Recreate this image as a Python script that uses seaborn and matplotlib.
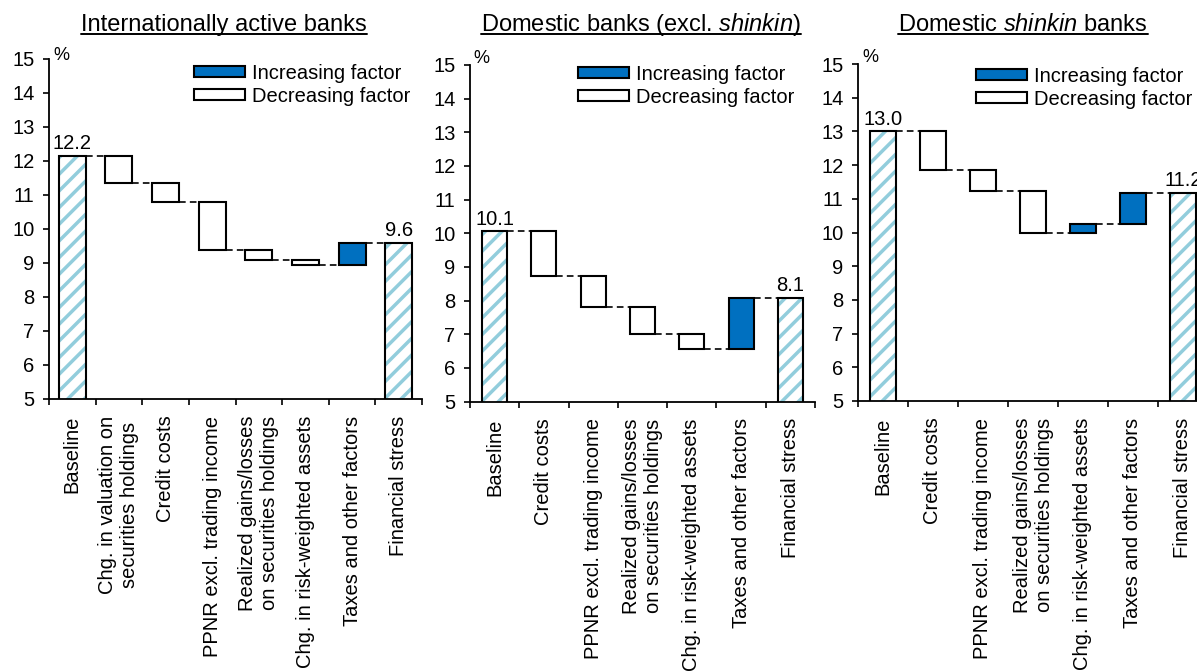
import numpy as np
import pandas as pd
import matplotlib
matplotlib.use("Agg")
import matplotlib.pyplot as plt
import seaborn as sns
from matplotlib.patches import Patch
from matplotlib.lines import Line2D

sns.set_theme(style="ticks")
plt.rcParams["font.family"] = ["Liberation Sans", "DejaVu Sans"]
plt.rcParams["mathtext.fontset"] = "custom"
plt.rcParams["mathtext.rm"] = "Liberation Sans"
plt.rcParams["mathtext.it"] = "Liberation Sans:italic"
plt.rcParams["hatch.linewidth"] = 2.5
for key in ("text.color", "axes.labelcolor", "xtick.color", "ytick.color",
            "xtick.labelcolor", "ytick.labelcolor"):
    plt.rcParams[key] = "black"

# ---------------- data ----------------
intl_categories = ["Baseline", "Chg. in valuation on\nsecurities holdings", "Credit costs",
                   "PPNR excl. trading income", "Realized gains/losses\non securities holdings",
                   "Chg. in risk-weighted assets", "Taxes and other factors", "Financial stress"]
intl_baseline = 12.16
intl_changes = [-0.82, -0.56, -1.40, -0.30, -0.13, 0.65]

dom_categories = ["Baseline", "Credit costs", "PPNR excl. trading income",
                  "Realized gains/losses\non securities holdings",
                  "Chg. in risk-weighted assets", "Taxes and other factors", "Financial stress"]
dom_baseline = 10.06
dom_changes = [-1.33, -0.92, -0.80, -0.46, 1.54]

shinkin_categories = ["Baseline", "Credit costs", "PPNR excl. trading income",
                      "Realized gains/losses\non securities holdings",
                      "Chg. in risk-weighted assets", "Taxes and other factors", "Financial stress"]
shinkin_baseline = 13.0
shinkin_changes = [-1.15, -0.63, -1.22, 0.25, 0.92]

titles = ["Internationally active banks",
          r"Domestic banks (excl. $\mathit{shinkin}$)",
          r"Domestic $\mathit{shinkin}$ banks"]
legend_labels = ["Increasing factor", "Decreasing factor"]
y_ticks = list(range(5, 16))

# ---------------- style ----------------
W, H = 1197, 672
BLUE = "#0070C0"
HATCH_C = "#92CDDC"
FS = 14.5

fig = plt.figure(figsize=(W / 100, H / 100), dpi=100)

# axes boxes in pixels: left, right, top, bottom
boxes = [(49, 422, 59, 399), (470, 815, 65, 401.5), (858, 1208, 64, 401)]
widths = [0.58, 0.51, 0.51]
title_x = [224, 641, 1023]
pct_pos = [(53, 60), (473, 63), (862, 62)]
leg_pos = [(194, 64), (578, 65), (976, 67)]

panels = [(intl_categories, intl_baseline, intl_changes),
          (dom_categories, dom_baseline, dom_changes),
          (shinkin_categories, shinkin_baseline, shinkin_changes)]


def waterfall(ax, cats, base, changes, width):
    n = len(cats)
    levels = [base]
    for c in changes:
        levels.append(levels[-1] + c)
    final = levels[-1]
    x = np.arange(n)

    totals = pd.DataFrame({"cat": cats,
                           "val": [base] + [0.0] * (n - 2) + [final]})
    sns.barplot(data=totals, x="cat", y="val", order=cats, color="white",
                edgecolor=HATCH_C, hatch="//", linewidth=0, width=width,
                errorbar=None, ax=ax, zorder=2)
    ax.bar([0, n - 1], [base, final], width=width, facecolor="none",
           edgecolor="black", linewidth=1.5, zorder=3)

    ch = np.array(changes)
    lo = np.minimum(levels[:-1], levels[1:])
    colors = [BLUE if c > 0 else "white" for c in ch]
    ax.bar(x[1:-1], np.abs(ch), bottom=lo, width=width, color=colors,
           edgecolor="black", linewidth=1.5, zorder=3)

    # connectors
    for i in range(n - 1):
        ax.plot([i + width / 2, i + 1 - width / 2], [levels[i], levels[i]],
                color="black", linestyle=(0, (4, 2.5)), linewidth=1.2, zorder=1)

    ax.text(0, base + 0.08, f"{base:.1f}", ha="center", va="bottom", fontsize=FS)
    ax.text(n - 1, final + 0.08, f"{final:.1f}", ha="center", va="bottom", fontsize=FS)

    ax.set_xlim(-0.5, n - 0.5)
    ax.set_ylim(5, 15)
    ax.set_yticks(y_ticks)
    ax.set_xticks(x)
    ax.set_xticklabels(cats, rotation=90, ha="center", va="top",
                       multialignment="center", fontsize=FS)
    ax.set_xticks(np.arange(n + 1) - 0.5, minor=True)
    ax.tick_params(axis="x", which="major", length=0, pad=12, labelcolor="black")
    ax.tick_params(axis="x", which="minor", length=4, width=1.2, direction="out",
                   color="black")
    ax.tick_params(axis="y", length=4.5, width=1.2, direction="out", pad=6,
                   labelsize=FS, color="black", labelcolor="black")
    ax.set_xlabel("")
    ax.set_ylabel("")
    sns.despine(ax=ax)
    for s in ("left", "bottom"):
        ax.spines[s].set_linewidth(1.3)
        ax.spines[s].set_color("black")


for k, (cats, base, changes) in enumerate(panels):
    l, r, t, b = boxes[k]
    ax = fig.add_axes([l / W, 1 - b / H, (r - l) / W, (b - t) / H])
    ax.set_facecolor("white")
    waterfall(ax, cats, base, changes, widths[k])
    px, py = pct_pos[k]
    fig.text(px / W, 1 - py / H, "%", ha="left", va="baseline", fontsize=13,
             color="black")
    handles = [Patch(facecolor=BLUE, edgecolor="black", linewidth=1.5),
               Patch(facecolor="white", edgecolor="black", linewidth=1.5)]
    lx, ly = leg_pos[k]
    ax.legend(handles, legend_labels, loc="upper left",
              bbox_to_anchor=(lx / W, 1 - ly / H), bbox_transform=fig.transFigure,
              frameon=False, fontsize=FS, borderpad=0, borderaxespad=0,
              handlelength=2.55, handleheight=0.45, handletextpad=0.35,
              labelspacing=0.2, labelcolor="black")

title_texts = []
for k in range(3):
    tt = fig.text(title_x[k] / W, 1 - 31 / H, titles[k], ha="center",
                  va="baseline", fontsize=17, color="black")
    title_texts.append(tt)

fig.canvas.draw()
renderer = fig.canvas.get_renderer()
for tt in title_texts:
    bb = tt.get_window_extent(renderer)
    yline = (H - 33.5) / H
    fig.add_artist(Line2D([bb.x0 / W, bb.x1 / W], [yline, yline],
                          transform=fig.transFigure, color="black", linewidth=1.4))

fig.savefig("out.png", dpi=100)
